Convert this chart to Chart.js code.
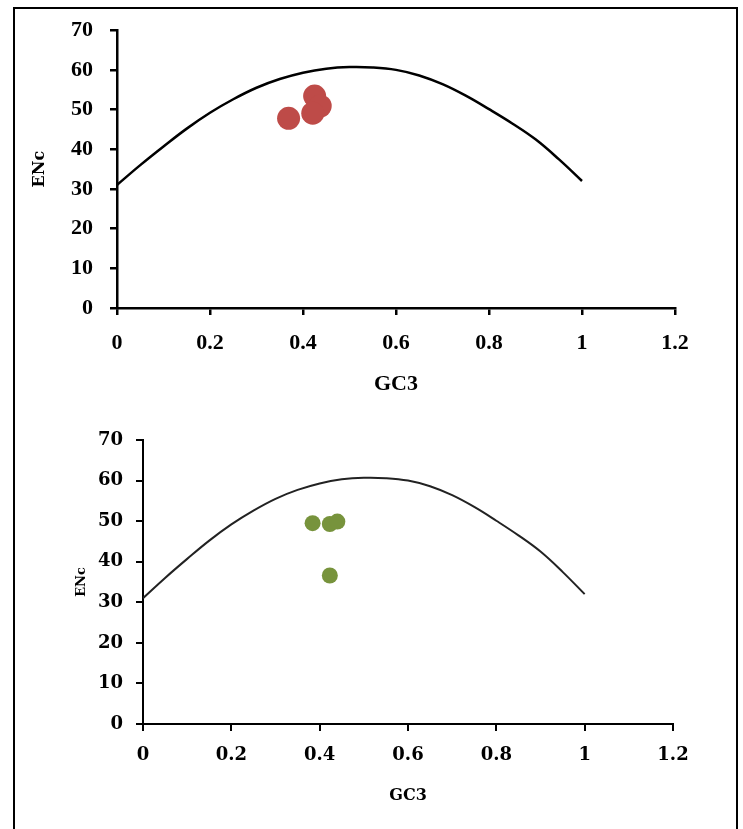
<!DOCTYPE html>
<html>
<head>
<meta charset="utf-8">
<script src="https://cdn.jsdelivr.net/npm/chart.js@4"></script>
<style>
  html, body { margin: 0; padding: 0; background: #fff; }
  body { width: 743px; height: 829px; position: relative; overflow: hidden; }
  #frame { position: absolute; left: 13px; top: 7px; width: 721px; height: 840px; border: 2px solid #000; }
  #topWrap { position: absolute; left: 0; top: 0; width: 743px; height: 400px; }
  #botWrap { position: absolute; left: 0; top: 400px; width: 743px; height: 429px; }
</style>
</head>
<body>
<div id="frame"></div>
<div id="topWrap"><canvas id="chartTop"></canvas></div>
<div id="botWrap"><canvas id="chartBottom"></canvas></div>
<script>
// expected ENc curve
const curveGC3 = [0, 0.05, 0.1, 0.15, 0.2, 0.25, 0.3, 0.35, 0.4, 0.45, 0.5,
                  0.55, 0.6, 0.65, 0.7, 0.75, 0.8, 0.85, 0.9, 0.95, 1.0];
const curveENc = [31.0, 36.0, 40.7, 45.2, 49.2, 52.6, 55.5, 57.7, 59.3, 60.3, 60.7,
                  60.6, 60.0, 58.6, 56.4, 53.5, 50.1, 46.5, 42.5, 37.5, 32.0];

// top panel (red)
const topGC3 = [0.369, 0.425, 0.437, 0.421];
const topENc = [47.8, 53.4, 50.9, 49.1];

// bottom panel (green)
const botGC3 = [0.384, 0.423, 0.440, 0.423];
const botENc = [49.5, 49.3, 49.9, 36.6];

const xTickLabels = ['0', '0.2', '0.4', '0.6', '0.8', '1', '1.2'];
const yTickLabels = ['0', '10', '20', '30', '40', '50', '60', '70'];

const curvePoints = curveGC3.map((x, i) => ({ x, y: curveENc[i] }));

function makeChart(id, cfg) {
  const pts = cfg.gc3.map((x, i) => ({ x, y: cfg.enc[i] }));
  return new Chart(document.getElementById(id), {
    type: 'scatter',
    data: {
      datasets: [
        {
          label: 'Expected',
          data: curvePoints,
          showLine: true,
          borderColor: cfg.lineColor,
          borderWidth: cfg.lineWidth,
          pointRadius: 0,
          tension: 0.4,
          fill: false,
          order: 2,
        },
        {
          label: 'Observed',
          data: pts,
          backgroundColor: cfg.dotColor,
          borderColor: cfg.dotColor,
          borderWidth: 0,
          pointRadius: cfg.dotRadius,
          order: 1,
        },
      ]
    },
    options: {
      responsive: true,
      maintainAspectRatio: false,
      animation: false,
      events: [],
      layout: { padding: cfg.padding },
      plugins: { legend: { display: false }, tooltip: { enabled: false } },
      scales: {
        x: {
          type: 'linear',
          min: 0, max: 1.2,
          afterFit: s => { s.height = cfg.xHeight; },
          border: { display: true, color: '#000', width: cfg.axisWidth },
          grid: { drawOnChartArea: false, drawTicks: true, tickLength: 7, color: '#000', lineWidth: cfg.axisWidth },
          ticks: {
            stepSize: 0.2,
            color: '#000',
            padding: cfg.xTickPad,
            maxRotation: 0,
            font: cfg.tickFont,
            callback: (v, i) => xTickLabels[i],
          },
          title: {
            display: true,
            text: 'GC3',
            color: '#000',
            font: cfg.xTitleFont,
            padding: { top: 0, bottom: cfg.xTitlePad },
          },
        },
        y: {
          type: 'linear',
          min: 0, max: 70,
          afterFit: s => { s.width = cfg.yWidth; },
          border: { display: true, color: '#000', width: cfg.axisWidth },
          grid: { drawOnChartArea: false, drawTicks: true, tickLength: 7, color: '#000', lineWidth: cfg.axisWidth },
          ticks: {
            stepSize: 10,
            color: '#000',
            padding: cfg.yTickPad,
            font: cfg.tickFont,
            callback: (v, i) => yTickLabels[i],
          },
          title: {
            display: true,
            text: 'ENc',
            color: '#000',
            font: cfg.yTitleFont,
            padding: { top: cfg.yTitlePad, bottom: 0 },
          },
        },
      }
    }
  });
}

makeChart('chartTop', {
  gc3: topGC3, enc: topENc,
  dotColor: '#be4b48', dotRadius: 11.5,
  lineColor: '#000', lineWidth: 2.5, axisWidth: 2.5,
  padding: { left: 0, right: 68, top: 22, bottom: 0 },
  yWidth: 117, xHeight: 92,
  xTickPad: 15, yTickPad: 17,
  tickFont: { family: 'Liberation Serif', size: 22, weight: 'bold' },
  xTitleFont: { family: 'Liberation Serif', size: 22, weight: 'bold' },
  yTitleFont: { family: 'DejaVu Serif', size: 16, weight: 'bold' },
  xTitlePad: 2, yTitlePad: 30,
});

makeChart('chartBottom', {
  gc3: botGC3, enc: botENc,
  dotColor: '#77933c', dotRadius: 8,
  lineColor: '#222', lineWidth: 2, axisWidth: 2,
  padding: { left: 0, right: 70, top: 40, bottom: 0 },
  yWidth: 143, xHeight: 105,
  xTickPad: 14, yTickPad: 13,
  tickFont: { family: 'DejaVu Serif', size: 18, weight: 'bold' },
  xTitleFont: { family: 'DejaVu Serif', size: 16, weight: 'bold' },
  yTitleFont: { family: 'DejaVu Serif', size: 13, weight: 'bold' },
  xTitlePad: 24, yTitlePad: 74,
});
</script>
</body>
</html>
